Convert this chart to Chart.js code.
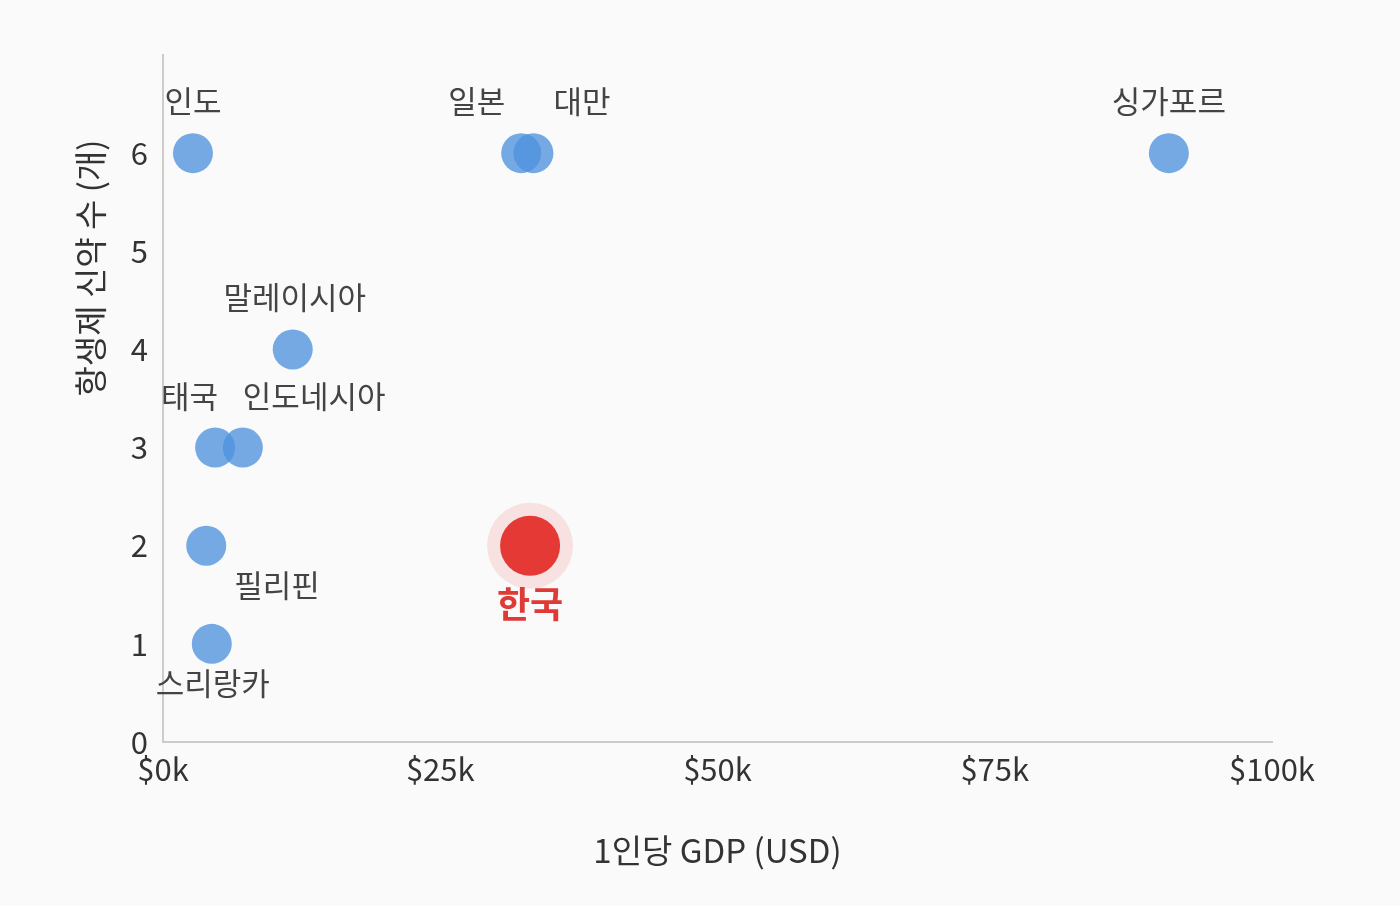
<!DOCTYPE html>
<html>
<head>
<meta charset="utf-8">
<script src="https://cdn.jsdelivr.net/npm/chart.js@4"></script>
<style>
  html, body { margin: 0; padding: 0; background: #fafafa; }
  #wrap { width: 1400px; height: 906px; }
</style>
</head>
<body>
<div id="wrap"><canvas id="gdpChart" width="1400" height="906"></canvas></div>
<script>
// countries, GDP per capita (k USD) and number of new antibiotics
const countries = ['인도', '일본', '대만', '싱가포르', '말레이시아', '태국', '인도네시아', '필리핀', '스리랑카'];
const gdpK = [2.7, 32.3, 33.4, 90.7, 11.7, 4.7, 7.2, 3.9, 4.4];
const newDrugs = [6, 6, 6, 6, 4, 3, 3, 2, 1];

const korea = '한국';
const koreaGdpK = 33.1;
const koreaDrugs = 2;

const xTicks = [0, 25, 50, 75, 100];
const yTicks = [0, 1, 2, 3, 4, 5, 6];

const yTitle = '항생제 신약 수 (개)';
const xTitle = '1인당 GDP (USD)';

const FONT = '"Noto Sans CJK KR", "Noto Sans", sans-serif';

// where each label sits relative to its point (px)
const labelPlace = {
  '인도': { dx: 0, dy: -52, align: 'center' },
  '일본': { dx: -16, dy: -52, align: 'right' },
  '대만': { dx: 20, dy: -52, align: 'left' },
  '싱가포르': { dx: 0, dy: -52, align: 'center' },
  '말레이시아': { dx: 2, dy: -52, align: 'center' },
  '태국': { dx: 3, dy: -51, align: 'right' },
  '인도네시아': { dx: 0, dy: -51, align: 'left' },
  '필리핀': { dx: 28, dy: 40, align: 'left' },
  '스리랑카': { dx: 1, dy: 39, align: 'center' },
  '한국': { dx: 0, dy: 59, align: 'center' }
};

const pointLabels = {
  id: 'pointLabels',
  afterDatasetsDraw(chart) {
    const ctx = chart.ctx;
    ctx.save();
    ctx.textBaseline = 'middle';
    chart.data.datasets.forEach((ds, i) => {
      if (!ds.names) return;
      const meta = chart.getDatasetMeta(i);
      meta.data.forEach((pt, j) => {
        const name = ds.names[j];
        const p = labelPlace[name];
        ctx.textAlign = p.align;
        if (name === korea) {
          ctx.font = 'bold 36px ' + FONT;
          ctx.fillStyle = '#e03a36';
        } else {
          ctx.font = '31px ' + FONT;
          ctx.fillStyle = '#444';
        }
        ctx.fillText(name, pt.x + p.dx, pt.y + p.dy);
      });
    });
    // y axis title sits higher than the centre of the axis
    ctx.translate(90, 268);
    ctx.rotate(-Math.PI / 2);
    ctx.textAlign = 'center';
    ctx.font = '33px ' + FONT;
    ctx.fillStyle = '#333';
    ctx.fillText(yTitle, 0, 0);
    ctx.restore();
  }
};

const bg = {
  id: 'bg',
  beforeDraw(chart) {
    const ctx = chart.ctx;
    ctx.save();
    ctx.fillStyle = '#fafafa';
    ctx.fillRect(0, 0, chart.width, chart.height);
    ctx.restore();
  }
};

new Chart(document.getElementById('gdpChart'), {
  type: 'scatter',
  data: {
    datasets: [
      {
        label: korea,
        names: [korea],
        data: [{ x: koreaGdpK, y: koreaDrugs }],
        backgroundColor: '#e53935',
        borderWidth: 0,
        pointRadius: 30,
        order: 0
      },
      {
        label: 'halo',
        data: [{ x: koreaGdpK, y: koreaDrugs }],
        backgroundColor: 'rgba(229,57,53,0.12)',
        borderWidth: 0,
        pointRadius: 43,
        order: 1
      },
      {
        label: '아시아',
        names: countries,
        data: countries.map((c, i) => ({ x: gdpK[i], y: newDrugs[i] })),
        backgroundColor: 'rgba(78,146,222,0.78)',
        borderWidth: 0,
        pointRadius: 20,
        order: 2
      }
    ]
  },
  options: {
    responsive: false,
    devicePixelRatio: 1,
    animation: false,
    layout: { padding: { top: 55, right: 128, left: 0, bottom: 0 } },
    plugins: {
      legend: { display: false },
      tooltip: { enabled: false }
    },
    scales: {
      x: {
        type: 'linear',
        min: 0,
        max: 100,
        afterBuildTicks: (s) => { s.ticks = xTicks.map(v => ({ value: v })); },
        afterFit: (s) => { s.height = 906 - 742; },
        grid: { display: false, drawTicks: false },
        border: { color: '#cccccc', width: 2 },
        ticks: {
          padding: 9,
          color: '#333',
          font: { family: FONT, size: 31 },
          maxRotation: 0,
          callback: (v) => '$' + v + 'k'
        },
        title: {
          display: true,
          text: xTitle,
          color: '#333',
          font: { family: FONT, size: 33 },
          padding: { bottom: 36 }
        }
      },
      y: {
        type: 'linear',
        min: 0,
        max: 7,
        afterBuildTicks: (s) => { s.ticks = yTicks.map(v => ({ value: v })); },
        afterFit: (s) => { s.width = 163; },
        grid: { display: false, drawTicks: false },
        border: { color: '#cccccc', width: 2 },
        ticks: {
          padding: 15,
          color: '#333',
          font: { family: FONT, size: 31 }
        },
        title: { display: false }
      }
    }
  },
  plugins: [bg, pointLabels]
});
</script>
</body>
</html>
